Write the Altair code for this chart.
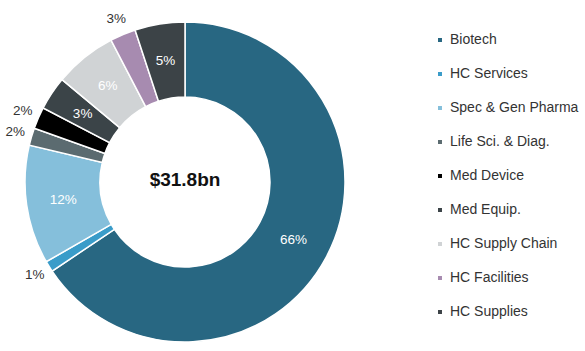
import altair as alt
import pandas as pd

categories = ["Biotech", "HC Services", "Spec & Gen Pharma", "Life Sci. & Diag.",
              "Med Device", "Med Equip.", "HC Supply Chain", "HC Facilities", "HC Supplies"]
shares = [65.6, 1.1, 12.0, 1.75, 2.2, 3.4, 6.3, 2.6, 5.05]
labels = ["66%", "1%", "12%", "2%", "2%", "3%", "6%", "3%", "5%"]
colors = ["#286782", "#3a9cc9", "#85bfdb", "#5b6b70", "#000000",
          "#3b4448", "#d0d3d5", "#a78bb0", "#3c4347"]
total_label = ["$31.8bn"]

df = pd.DataFrame({"cat": categories, "share": shares, "label": labels,
                   "idx": list(range(len(categories)))})

FONT = "Liberation Sans"
CX, CY = 185, 182
theta_scale = alt.Scale(domain=[0, 100], range=[0, 6.283185307])

base = alt.Chart(df).transform_joinaggregate(
    total="sum(share)"
).transform_calculate(
    pct="datum.share / datum.total * 100"
).transform_window(
    cum="sum(pct)", sort=[alt.SortField("idx")], frame=[None, 0]
).transform_calculate(
    start="datum.cum - datum.pct", mid="datum.cum - datum.pct / 2"
)

arcs = base.mark_arc(innerRadius=85, outerRadius=160, stroke="white", strokeWidth=1.5).encode(
    x=alt.value(CX), y=alt.value(CY),
    theta=alt.Theta("start:Q", scale=theta_scale),
    theta2="cum:Q",
    color=alt.Color("cat:N", sort=categories,
                    scale=alt.Scale(domain=categories, range=colors),
                    legend=alt.Legend(title=None, orient="none", legendX=433, legendY=33,
                                      symbolType="square", symbolSize=30,
                                      labelFont=FONT, labelFontSize=14, labelColor="#333333",
                                      rowPadding=20, labelOffset=3, labelLimit=200)),
    tooltip=["cat:N", "label:N"],
)

inside = base.transform_filter("datum.share >= 3").mark_text(
    radius=123, font=FONT, fontSize=13.5, color="white"
).encode(
    x=alt.value(CX), y=alt.value(CY),
    theta=alt.Theta("mid:Q", scale=theta_scale),
    text="label:N",
)

outside = base.transform_filter("datum.share < 3").mark_text(
    radius=177, font=FONT, fontSize=13.5, color="#333333"
).encode(
    x=alt.value(CX), y=alt.value(CY),
    theta=alt.Theta("mid:Q", scale=theta_scale),
    text="label:N",
)

center = alt.Chart(pd.DataFrame({"t": total_label})).mark_text(
    font=FONT, fontSize=19, fontWeight="bold", color="#111111"
).encode(x=alt.value(CX), y=alt.value(CY - 2), text="t:N")

chart = alt.layer(arcs, inside, outside, center).properties(
    width=585, height=351, padding=0, autosize=alt.AutoSizeParams(type="none")
).configure_view(stroke=None)

chart.save("out.html", embed_options={"renderer": "svg", "actions": False})
